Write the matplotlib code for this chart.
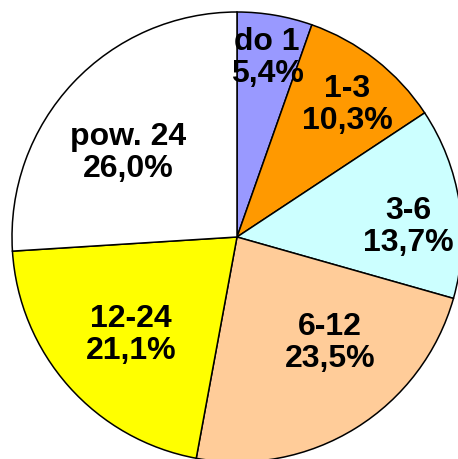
import matplotlib
matplotlib.use("Agg")
import matplotlib.pyplot as plt

categories = ["do 1", "1-3", "3-6", "6-12", "12-24", "pow. 24"]
values = [5.4, 10.3, 13.7, 23.5, 21.1, 26.0]
pct_labels = ["5,4%", "10,3%", "13,7%", "23,5%", "21,1%", "26,0%"]
colors = ["#9999FF", "#FF9900", "#CCFFFF", "#FFCC99", "#FFFF00", "#FFFFFF"]

# label centre positions (pixel coords in the 458x459 image)
label_px = [(267, 58), (347, 105), (408, 227), (330, 343), (131, 335), (128, 153)]

W, H = 458, 459
cx, cy, R = 237, 237, 225

fig = plt.figure(figsize=(W / 100, H / 100), dpi=100)
ax = fig.add_axes([0, 0, 1, 1])
ax.pie(values, colors=colors, startangle=90, counterclock=False,
       radius=1.0, center=(0, 0),
       wedgeprops=dict(edgecolor="black", linewidth=1.1))
ax.set_xlim(-cx / R, (W - cx) / R)
ax.set_ylim(-(H - cy) / R, cy / R)
ax.set_aspect("auto")
ax.axis("off")

for cat, pct, (px, py) in zip(categories, pct_labels, label_px):
    x = (px - cx) / R
    y = (cy - py) / R
    ax.text(x, y, f"{cat}\n{pct}", ha="center", va="center",
            fontsize=23, fontweight="bold", family="Liberation Sans",
            linespacing=1.05, color="black")

fig.savefig("out.png", dpi=100)
